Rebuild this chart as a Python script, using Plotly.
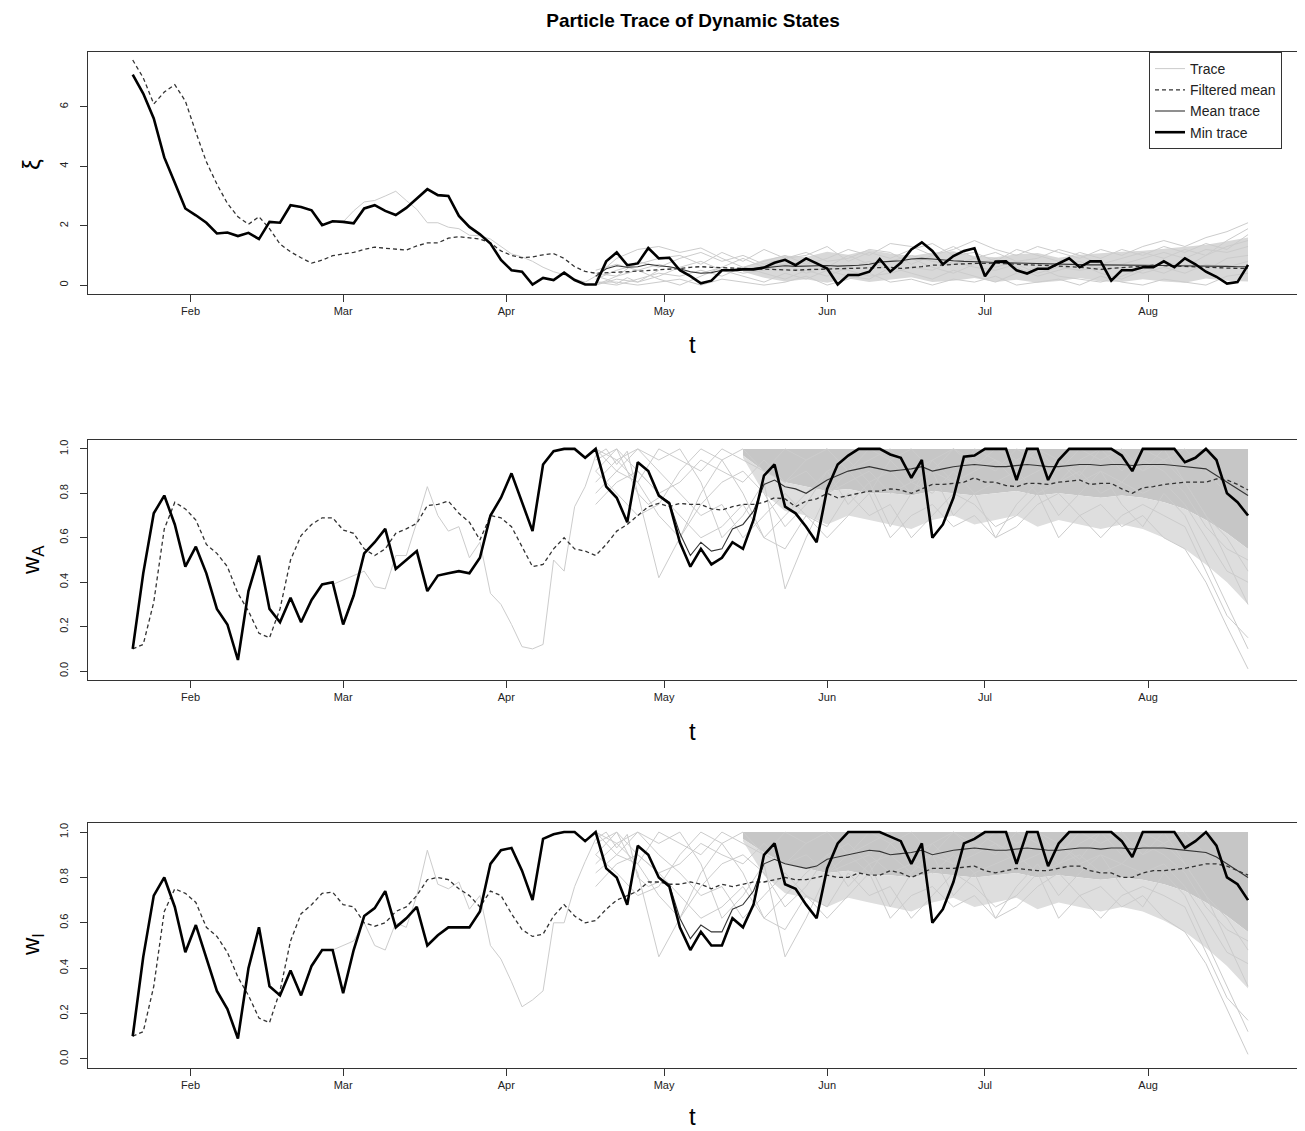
import pandas as pd
import plotly.graph_objects as go

# ---------------- data ----------------
START = "2020-01-21"          # first day of the traces
MAIN_STEP = 2                 # days between samples for main series
GRAY_STEP = 4
GRAY_START_DAY = 88
MEAN1_START_DAY = 88
MEAN23_START_DAY = 100
BAND_START_DAY = 116
XI_BRANCH_DAY = 40
W_BRANCH_DAY = 38

month_ticks = ["2020-02-01", "2020-03-01", "2020-04-01", "2020-05-01",
               "2020-06-01", "2020-07-01", "2020-08-01"]
month_labels = ["Feb", "Mar", "Apr", "May", "Jun", "Jul", "Aug"]

# ---- panel 1: xi ----
xi_min = [7.09, 6.45, 5.61, 4.30, 3.45, 2.58, 2.35, 2.10, 1.74, 1.77,
          1.65, 1.76, 1.55, 2.13, 2.10, 2.69, 2.63, 2.52, 2.02, 2.15,
          2.13, 2.08, 2.58, 2.69, 2.50, 2.36, 2.60, 2.92, 3.23, 3.03,
          3.00, 2.33, 1.96, 1.71, 1.40, 0.85, 0.50, 0.45, 0.02, 0.24,
          0.17, 0.42, 0.17, 0.02, 0.02, 0.80, 1.10, 0.67, 0.73, 1.25,
          0.90, 0.92, 0.50, 0.30, 0.06, 0.15, 0.50, 0.50, 0.53, 0.53,
          0.59, 0.75, 0.85, 0.67, 0.90, 0.73, 0.56, 0.02, 0.34, 0.34,
          0.45, 0.88, 0.45, 0.75, 1.20, 1.44, 1.15, 0.70, 0.98, 1.15,
          1.24, 0.30, 0.79, 0.80, 0.50, 0.39, 0.55, 0.55, 0.72, 0.90,
          0.60, 0.80, 0.80, 0.15, 0.50, 0.50, 0.60, 0.60, 0.80, 0.60,
          0.90, 0.70, 0.45, 0.28, 0.05, 0.10, 0.68]
xi_filtered = [7.58, 6.98, 6.10, 6.50, 6.75, 6.20, 5.15, 4.15, 3.40, 2.75,
               2.30, 2.05, 2.30, 1.90, 1.38, 1.12, 0.92, 0.74, 0.84, 0.99,
               1.05, 1.10, 1.20, 1.28, 1.24, 1.20, 1.18, 1.32, 1.42, 1.42,
               1.58, 1.63, 1.60, 1.55, 1.42, 1.15, 1.00, 0.92, 0.95, 1.02,
               1.06, 0.90, 0.62, 0.46, 0.40, 0.41, 0.43, 0.45, 0.47, 0.49,
               0.50, 0.53, 0.56, 0.60, 0.62, 0.60, 0.58, 0.57, 0.56, 0.55,
               0.54, 0.53, 0.52, 0.50, 0.52, 0.53, 0.55, 0.56, 0.57, 0.58,
               0.59, 0.58, 0.60, 0.56, 0.58, 0.62, 0.67, 0.67, 0.70, 0.72,
               0.73, 0.73, 0.74, 0.72, 0.70, 0.67, 0.67, 0.66, 0.63, 0.62,
               0.60, 0.56, 0.53, 0.56, 0.58, 0.60, 0.64, 0.67, 0.66, 0.64,
               0.62, 0.61, 0.60, 0.59, 0.57, 0.56, 0.56]
xi_mean = [0.30, 0.55, 0.65, 0.60, 0.62, 0.70, 0.65, 0.62, 0.55, 0.45,
           0.40, 0.42, 0.50, 0.52, 0.53, 0.55, 0.58, 0.62, 0.65, 0.63,
           0.64, 0.65, 0.66, 0.64, 0.65, 0.67, 0.70, 0.78, 0.80, 0.82,
           0.88, 0.90, 0.88, 0.84, 0.82, 0.80, 0.80, 0.78, 0.76, 0.75,
           0.73, 0.72, 0.72, 0.71, 0.70, 0.70, 0.69, 0.68, 0.68, 0.68,
           0.67, 0.67, 0.66, 0.66, 0.66, 0.65, 0.65, 0.64, 0.64, 0.63,
           0.63, 0.62, 0.62]
xi_branch = [2.13, 2.50, 2.80, 2.85, 3.00, 3.16, 2.85, 2.55, 2.10, 2.10,
             1.95, 1.90, 1.68, 1.66, 1.55, 1.30, 1.05, 0.95, 0.80, 0.60,
             0.45, 0.35, 0.20, 0.10, 0.30, 0.20, 0.05, 0.25, 0.10, 0.30, 0.50]
xi_band_high = [0.60, 0.85, 1.00, 0.95, 1.12, 1.02, 1.18, 1.06, 0.98, 1.10, 1.14, 0.98, 0.94,
                1.04, 1.08, 0.92, 1.02, 1.08, 1.12, 1.16, 1.22, 1.28, 1.36, 1.48, 1.60]
xi_band_low = [0.45, 0.25, 0.12, 0.20, 0.08, 0.22, 0.10, 0.18, 0.26, 0.10, 0.15, 0.24, 0.10,
               0.18, 0.08, 0.14, 0.24, 0.12, 0.10, 0.20, 0.12, 0.08, 0.22, 0.15, 0.12]
xi_trace_1 = [0.3, 0.9, 1.2, 1.3, 1.1, 1.25, 0.9, 0.6, 0.8, 1.0, 0.7, 0.9, 1.2, 1.0, 1.4, 1.3,
              1.0, 1.2, 1.5, 1.2, 1.0, 1.3, 1.1, 0.9, 1.2, 1.0, 1.3, 1.5, 1.3, 1.6, 1.8, 2.1]
xi_trace_2 = [0.1, 0.0, 0.2, 0.4, 0.3, 0.5, 0.3, 0.6, 0.4, 0.2, 0.5, 0.3, 0.6, 0.8, 0.5, 0.9,
              0.6, 0.4, 0.7, 0.9, 0.6, 0.3, 0.5, 0.7, 0.4, 0.2, 0.5, 0.8, 0.6, 1.0, 1.3, 1.5]
xi_trace_3 = [0.2, 0.5, 0.7, 0.9, 1.0, 0.7, 1.1, 0.8, 1.2, 0.9, 1.0, 1.3, 0.8, 1.1, 0.9, 1.2,
              1.4, 1.0, 1.1, 0.8, 1.2, 1.0, 0.8, 1.1, 0.9, 1.2, 1.0, 1.3, 1.1, 1.4, 1.2, 1.7]
xi_trace_4 = [0.0, 0.2, 0.1, 0.3, 0.6, 0.8, 0.5, 0.3, 0.1, 0.4, 0.2, 0.5, 0.3, 0.2, 0.6, 0.4,
              0.2, 0.5, 0.3, 0.1, 0.4, 0.6, 0.3, 0.2, 0.1, 0.3, 0.6, 0.4, 0.7, 0.5, 0.9, 1.0]
xi_trace_5 = [0.4, 0.3, 0.8, 0.6, 0.9, 1.1, 0.8, 1.0, 0.7, 0.9, 1.1, 0.8, 0.9, 1.2, 1.1, 0.7,
              1.0, 1.3, 0.9, 1.1, 0.8, 0.9, 1.2, 1.0, 0.7, 0.9, 1.1, 0.9, 1.2, 1.0, 1.5, 1.9]
xi_trace_6 = [0.1, 0.1, 0.0, 0.1, 0.2, 0.0, 0.2, 0.1, 0.0, 0.1, 0.3, 0.0, 0.2, 0.4, 0.1, 0.2,
              0.0, 0.2, 0.1, 0.3, 0.0, 0.1, 0.2, 0.0, 0.3, 0.1, 0.0, 0.2, 0.1, 0.0, 0.3, 0.4]
xi_trace_7 = [0.5, 0.7, 0.5, 0.7, 0.5, 0.4, 0.6, 0.9, 0.6, 0.7, 0.8, 0.6, 1.0, 0.7, 0.8, 1.0,
              0.8, 0.7, 0.9, 0.6, 0.8, 0.7, 0.6, 0.5, 0.6, 0.7, 0.9, 1.1, 0.9, 1.2, 1.1, 1.3]
xi_trace_8 = [0.0, 0.3, 0.5, 0.2, 0.0, 0.3, 0.6, 0.4, 0.5, 0.7, 0.4, 0.6, 0.5, 0.3, 0.4, 0.6,
              0.5, 0.8, 0.6, 0.5, 0.7, 0.4, 0.6, 0.8, 0.5, 0.6, 0.4, 0.6, 0.4, 0.7, 0.6, 0.8]

# ---- panel 2: w_A ----
wa_min = [0.10, 0.44, 0.71, 0.79, 0.66, 0.47, 0.56, 0.44, 0.28, 0.21,
          0.05, 0.36, 0.52, 0.28, 0.22, 0.33, 0.22, 0.32, 0.39, 0.40,
          0.21, 0.34, 0.53, 0.58, 0.64, 0.46, 0.50, 0.54, 0.36, 0.43,
          0.44, 0.45, 0.44, 0.51, 0.70, 0.78, 0.89, 0.76, 0.63, 0.93,
          0.99, 1.00, 1.00, 0.96, 1.00, 0.83, 0.78, 0.67, 0.94, 0.90,
          0.79, 0.755, 0.58, 0.47, 0.55, 0.48, 0.51, 0.58, 0.55, 0.68,
          0.88, 0.93, 0.74, 0.71, 0.65, 0.58, 0.82, 0.93, 0.97, 1.00,
          1.00, 1.00, 0.975, 0.96, 0.87, 0.95, 0.60, 0.66, 0.78, 0.965,
          0.97, 1.00, 1.00, 1.00, 0.86, 1.00, 1.00, 0.86, 0.95, 1.00,
          1.00, 1.00, 1.00, 1.00, 0.97, 0.90, 1.00, 1.00, 1.00, 1.00,
          0.94, 0.96, 1.00, 0.95, 0.80, 0.76, 0.70]
wa_filtered = [0.10, 0.12, 0.31, 0.64, 0.76, 0.73, 0.68, 0.57, 0.53, 0.47,
               0.35, 0.27, 0.17, 0.15, 0.28, 0.50, 0.61, 0.66, 0.69, 0.69,
               0.635, 0.62, 0.55, 0.52, 0.55, 0.62, 0.64, 0.665, 0.745, 0.75,
               0.765, 0.71, 0.67, 0.59, 0.70, 0.69, 0.65, 0.56, 0.47, 0.48,
               0.55, 0.60, 0.55, 0.54, 0.52, 0.57, 0.63, 0.66, 0.70, 0.74,
               0.755, 0.74, 0.755, 0.75, 0.75, 0.73, 0.725, 0.74, 0.75, 0.75,
               0.76, 0.78, 0.775, 0.74, 0.765, 0.775, 0.80, 0.78, 0.79, 0.80,
               0.81, 0.81, 0.82, 0.815, 0.80, 0.82, 0.84, 0.84, 0.845, 0.85,
               0.87, 0.85, 0.85, 0.835, 0.83, 0.845, 0.845, 0.84, 0.85, 0.855,
               0.86, 0.84, 0.845, 0.845, 0.82, 0.80, 0.825, 0.83, 0.84, 0.845,
               0.85, 0.85, 0.85, 0.865, 0.86, 0.84, 0.815]
wa_mean = [0.79, 0.76, 0.62, 0.52, 0.58, 0.54, 0.55, 0.64, 0.66, 0.72,
           0.84, 0.86, 0.83, 0.82, 0.80, 0.83, 0.86, 0.88, 0.90, 0.91,
           0.92, 0.91, 0.90, 0.905, 0.91, 0.92, 0.90, 0.91, 0.92, 0.925,
           0.93, 0.925, 0.92, 0.92, 0.925, 0.93, 0.925, 0.92, 0.92, 0.925,
           0.93, 0.93, 0.925, 0.93, 0.93, 0.925, 0.93, 0.93, 0.93, 0.925,
           0.92, 0.915, 0.91, 0.88, 0.85, 0.82, 0.79]
wa_branch = [0.39, 0.41, 0.43, 0.45, 0.38, 0.37, 0.52, 0.52, 0.67, 0.83,
             0.70, 0.63, 0.65, 0.51, 0.58, 0.35, 0.30, 0.21, 0.11, 0.10,
             0.12, 0.50, 0.45, 0.74, 0.83, 0.97, 1.00, 0.93, 0.99, 0.80, 0.75, 0.78]
wa_band_high = [1.00, 1.00, 1.00, 1.00, 1.00, 1.00, 1.00, 1.00, 1.00, 1.00, 1.00, 1.00, 1.00,
                1.00, 1.00, 1.00, 1.00, 1.00, 1.00, 1.00, 1.00, 1.00, 1.00, 1.00, 1.00]
wa_band_low = [0.97, 0.90, 0.85, 0.83, 0.81, 0.82, 0.80, 0.80, 0.79, 0.81, 0.80, 0.79, 0.80,
               0.81, 0.79, 0.80, 0.79, 0.78, 0.79, 0.78, 0.76, 0.73, 0.68, 0.62, 0.55]
wa_band_outer = [0.96, 0.80, 0.72, 0.70, 0.66, 0.70, 0.68, 0.66, 0.64, 0.68, 0.70, 0.66, 0.68,
                 0.70, 0.65, 0.68, 0.66, 0.64, 0.66, 0.64, 0.60, 0.55, 0.48, 0.40, 0.30]
wa_trace_1 = [0.95, 1.0, 0.8, 0.42, 0.6, 0.8, 0.95, 1.0, 0.9, 0.85, 0.95, 1.0, 0.9, 0.8, 0.95, 1.0,
              0.9, 0.85, 1.0, 0.95, 0.9, 1.0, 0.95, 0.88, 1.0, 0.97, 0.9, 1.0, 0.85, 0.7, 0.6, 0.45]
wa_trace_2 = [0.9, 0.8, 0.7, 0.75, 0.9, 1.0, 0.95, 0.8, 0.6, 0.7, 0.8, 0.9, 0.75, 0.85, 0.65, 0.8,
              0.9, 0.7, 0.8, 0.6, 0.75, 0.85, 0.7, 0.8, 0.9, 0.75, 0.65, 0.8, 0.7, 0.5, 0.3, 0.1]
wa_trace_3 = [1.0, 0.9, 1.0, 0.95, 1.0, 0.85, 0.6, 0.7, 0.85, 0.37, 0.6, 0.8, 0.9, 1.0, 0.95, 0.85,
              0.9, 1.0, 0.95, 0.9, 1.0, 0.95, 0.85, 0.95, 1.0, 0.9, 1.0, 0.95, 0.85, 0.7, 0.5, 0.3]
wa_trace_4 = [0.85, 0.95, 1.0, 0.9, 0.8, 0.7, 0.75, 0.6, 0.7, 0.8, 0.7, 0.65, 0.8, 0.7, 0.75, 0.6,
              0.7, 0.8, 0.75, 0.65, 0.7, 0.8, 0.6, 0.7, 0.75, 0.65, 0.7, 0.6, 0.55, 0.4, 0.2, 0.01]
wa_trace_5 = [0.8, 0.9, 0.85, 1.0, 0.95, 0.9, 1.0, 0.95, 0.9, 1.0, 0.95, 1.0, 0.9, 0.95, 1.0, 0.9,
              0.95, 1.0, 0.92, 1.0, 0.95, 1.0, 0.9, 1.0, 0.95, 1.0, 0.9, 0.95, 1.0, 0.9, 0.8, 0.7]
wa_trace_6 = [0.75, 0.85, 0.9, 0.8, 0.7, 0.6, 0.65, 0.75, 0.6, 0.55, 0.7, 0.6, 0.7, 0.8, 0.6, 0.7,
              0.75, 0.65, 0.7, 0.6, 0.65, 0.75, 0.8, 0.7, 0.6, 0.7, 0.75, 0.7, 0.65, 0.45, 0.25, 0.15]
wa_trace_7 = [0.9, 1.0, 0.9, 0.8, 0.85, 0.95, 0.9, 0.85, 0.95, 0.85, 0.9, 0.8, 0.85, 0.9, 0.8, 0.85,
              0.8, 0.9, 0.8, 0.85, 0.9, 0.8, 0.85, 0.9, 0.8, 0.85, 0.8, 0.85, 0.75, 0.6, 0.45, 0.4]
wa_trace_8 = [1.0, 0.95, 0.85, 0.7, 0.6, 0.75, 0.85, 0.9, 0.8, 0.65, 0.75, 0.9, 0.95, 0.85, 0.9, 0.8,
              0.95, 0.85, 0.9, 0.95, 0.85, 0.9, 0.95, 0.85, 0.9, 0.85, 0.95, 0.9, 0.8, 0.65, 0.55, 0.5]

# ---- panel 3: w_I ----
wi_min = [0.10, 0.45, 0.72, 0.80, 0.67, 0.47, 0.59, 0.45, 0.30, 0.22,
          0.09, 0.40, 0.58, 0.32, 0.28, 0.39, 0.28, 0.41, 0.48, 0.48,
          0.29, 0.48, 0.63, 0.665, 0.74, 0.58, 0.62, 0.67, 0.50, 0.545,
          0.58, 0.58, 0.58, 0.65, 0.86, 0.92, 0.93, 0.83, 0.70, 0.97,
          0.99, 1.00, 1.00, 0.96, 1.00, 0.84, 0.80, 0.68, 0.94, 0.90,
          0.80, 0.76, 0.58, 0.48, 0.56, 0.50, 0.50, 0.62, 0.58, 0.68,
          0.90, 0.95, 0.77, 0.75, 0.68, 0.62, 0.84, 0.95, 1.00, 1.00,
          1.00, 1.00, 0.98, 0.96, 0.86, 0.95, 0.60, 0.66, 0.78, 0.95,
          0.97, 1.00, 1.00, 1.00, 0.86, 1.00, 1.00, 0.85, 0.95, 1.00,
          1.00, 1.00, 1.00, 1.00, 0.96, 0.89, 1.00, 1.00, 1.00, 1.00,
          0.93, 0.96, 1.00, 0.94, 0.80, 0.77, 0.70]
wi_filtered = [0.10, 0.12, 0.32, 0.65, 0.75, 0.73, 0.69, 0.58, 0.54, 0.47,
               0.36, 0.28, 0.18, 0.16, 0.30, 0.52, 0.64, 0.68, 0.73, 0.735,
               0.68, 0.67, 0.60, 0.585, 0.60, 0.65, 0.67, 0.72, 0.79, 0.80,
               0.79, 0.75, 0.72, 0.67, 0.74, 0.72, 0.64, 0.57, 0.54, 0.55,
               0.63, 0.68, 0.63, 0.60, 0.61, 0.66, 0.70, 0.72, 0.74, 0.78,
               0.78, 0.77, 0.77, 0.78, 0.77, 0.75, 0.77, 0.76, 0.77, 0.78,
               0.78, 0.79, 0.80, 0.79, 0.79, 0.80, 0.81, 0.80, 0.80, 0.82,
               0.81, 0.81, 0.83, 0.82, 0.80, 0.82, 0.84, 0.84, 0.84, 0.845,
               0.85, 0.83, 0.82, 0.83, 0.84, 0.835, 0.83, 0.83, 0.84, 0.85,
               0.85, 0.83, 0.82, 0.82, 0.80, 0.80, 0.82, 0.83, 0.83, 0.835,
               0.84, 0.85, 0.86, 0.86, 0.85, 0.83, 0.81]
wi_mean = [0.80, 0.77, 0.62, 0.53, 0.59, 0.56, 0.56, 0.66, 0.68, 0.74,
           0.86, 0.88, 0.86, 0.85, 0.84, 0.85, 0.88, 0.89, 0.90, 0.91,
           0.92, 0.915, 0.90, 0.905, 0.91, 0.92, 0.90, 0.91, 0.92, 0.925,
           0.93, 0.925, 0.92, 0.92, 0.925, 0.93, 0.925, 0.92, 0.92, 0.925,
           0.93, 0.93, 0.925, 0.93, 0.93, 0.925, 0.93, 0.93, 0.93, 0.925,
           0.92, 0.915, 0.91, 0.89, 0.86, 0.83, 0.80]
wi_branch = [0.48, 0.50, 0.52, 0.60, 0.50, 0.48, 0.60, 0.58, 0.72, 0.92,
             0.77, 0.75, 0.78, 0.66, 0.72, 0.50, 0.44, 0.34, 0.23, 0.26,
             0.30, 0.60, 0.60, 0.76, 0.87, 0.97, 1.00, 0.93, 0.99, 0.80, 0.76, 0.78]
wi_band_high = [1.00, 1.00, 1.00, 1.00, 1.00, 1.00, 1.00, 1.00, 1.00, 1.00, 1.00, 1.00, 1.00,
                1.00, 1.00, 1.00, 1.00, 1.00, 1.00, 1.00, 1.00, 1.00, 1.00, 1.00, 1.00]
wi_band_low = [0.97, 0.91, 0.86, 0.84, 0.82, 0.83, 0.81, 0.81, 0.80, 0.82, 0.81, 0.80, 0.81,
               0.82, 0.80, 0.81, 0.80, 0.79, 0.80, 0.79, 0.77, 0.74, 0.69, 0.63, 0.56]
wi_band_outer = [0.96, 0.81, 0.73, 0.71, 0.67, 0.71, 0.69, 0.67, 0.65, 0.69, 0.71, 0.67, 0.69,
                 0.71, 0.66, 0.69, 0.67, 0.65, 0.67, 0.65, 0.61, 0.56, 0.49, 0.41, 0.31]
wi_trace_1 = [0.95, 1.0, 0.82, 0.45, 0.62, 0.82, 0.95, 1.0, 0.9, 0.86, 0.95, 1.0, 0.9, 0.82, 0.95, 1.0,
              0.9, 0.86, 1.0, 0.95, 0.9, 1.0, 0.95, 0.88, 1.0, 0.97, 0.9, 1.0, 0.86, 0.72, 0.62, 0.48]
wi_trace_2 = [0.9, 0.82, 0.72, 0.76, 0.9, 1.0, 0.95, 0.82, 0.62, 0.72, 0.82, 0.9, 0.76, 0.86, 0.67, 0.82,
              0.9, 0.72, 0.82, 0.62, 0.76, 0.86, 0.72, 0.82, 0.9, 0.76, 0.67, 0.82, 0.72, 0.52, 0.32, 0.12]
wi_trace_3 = [1.0, 0.9, 1.0, 0.95, 1.0, 0.86, 0.62, 0.72, 0.86, 0.45, 0.62, 0.82, 0.9, 1.0, 0.95, 0.86,
              0.9, 1.0, 0.95, 0.9, 1.0, 0.95, 0.86, 0.95, 1.0, 0.9, 1.0, 0.95, 0.86, 0.72, 0.52, 0.32]
wi_trace_4 = [0.86, 0.95, 1.0, 0.9, 0.82, 0.72, 0.76, 0.62, 0.72, 0.82, 0.72, 0.67, 0.82, 0.72, 0.76, 0.62,
              0.72, 0.82, 0.76, 0.67, 0.72, 0.82, 0.62, 0.72, 0.76, 0.67, 0.72, 0.62, 0.56, 0.42, 0.22, 0.02]
wi_trace_5 = [0.82, 0.9, 0.86, 1.0, 0.95, 0.9, 1.0, 0.95, 0.9, 1.0, 0.95, 1.0, 0.9, 0.95, 1.0, 0.9,
              0.95, 1.0, 0.92, 1.0, 0.95, 1.0, 0.9, 1.0, 0.95, 1.0, 0.9, 0.95, 1.0, 0.9, 0.82, 0.72]
wi_trace_6 = [0.76, 0.86, 0.9, 0.82, 0.72, 0.62, 0.67, 0.76, 0.62, 0.57, 0.72, 0.62, 0.72, 0.82, 0.62, 0.72,
              0.76, 0.67, 0.72, 0.62, 0.67, 0.76, 0.82, 0.72, 0.62, 0.72, 0.76, 0.72, 0.67, 0.47, 0.27, 0.17]
wi_trace_7 = [0.9, 1.0, 0.9, 0.82, 0.86, 0.95, 0.9, 0.86, 0.95, 0.86, 0.9, 0.82, 0.86, 0.9, 0.82, 0.86,
              0.82, 0.9, 0.82, 0.86, 0.9, 0.82, 0.86, 0.9, 0.82, 0.86, 0.82, 0.86, 0.76, 0.62, 0.47, 0.42]
wi_trace_8 = [1.0, 0.95, 0.86, 0.72, 0.62, 0.76, 0.86, 0.9, 0.82, 0.67, 0.76, 0.9, 0.95, 0.86, 0.9, 0.82,
              0.95, 0.86, 0.9, 0.95, 0.86, 0.9, 0.95, 0.86, 0.9, 0.86, 0.95, 0.9, 0.82, 0.67, 0.57, 0.52]


# ---------------- helpers ----------------
def dates(start_day, n, step):
    return pd.date_range(pd.Timestamp(START) + pd.Timedelta(days=start_day),
                         periods=n, freq=f"{step}D")


GRAY = "rgb(204,204,204)"
DARK = "#333333"
FONT = "Liberation Sans, Arial, Helvetica, sans-serif"

fig = go.Figure()

panels = [
    dict(idx=1, mn=xi_min, filt=xi_filtered, mean=xi_mean, mean_day=MEAN1_START_DAY,
         branch=xi_branch, branch_day=XI_BRANCH_DAY,
         traces=[xi_trace_1, xi_trace_2, xi_trace_3, xi_trace_4,
                 xi_trace_5, xi_trace_6, xi_trace_7, xi_trace_8],
         bands=[(xi_band_high, None), (xi_band_low, "rgb(216,216,216)")]),
    dict(idx=2, mn=wa_min, filt=wa_filtered, mean=wa_mean, mean_day=MEAN23_START_DAY,
         branch=wa_branch, branch_day=W_BRANCH_DAY,
         traces=[wa_trace_1, wa_trace_2, wa_trace_3, wa_trace_4,
                 wa_trace_5, wa_trace_6, wa_trace_7, wa_trace_8],
         bands=[(wa_band_high, None), (wa_band_low, "rgb(198,198,198)"),
                (wa_band_outer, "rgb(222,222,222)")]),
    dict(idx=3, mn=wi_min, filt=wi_filtered, mean=wi_mean, mean_day=MEAN23_START_DAY,
         branch=wi_branch, branch_day=W_BRANCH_DAY,
         traces=[wi_trace_1, wi_trace_2, wi_trace_3, wi_trace_4,
                 wi_trace_5, wi_trace_6, wi_trace_7, wi_trace_8],
         bands=[(wi_band_high, None), (wi_band_low, "rgb(198,198,198)"),
                (wi_band_outer, "rgb(222,222,222)")]),
]

for p in panels:
    ax = "" if p["idx"] == 1 else str(p["idx"])
    xa, ya = "x" + ax, "y" + ax
    first = p["idx"] == 1
    # density bands of the particle cloud
    for vals, col in p["bands"]:
        xb = dates(BAND_START_DAY, len(vals), GRAY_STEP)
        if col is None:
            fig.add_trace(go.Scatter(x=xb, y=vals, mode="lines", line=dict(width=0),
                                     showlegend=False, hoverinfo="skip", xaxis=xa, yaxis=ya))
        else:
            fig.add_trace(go.Scatter(x=xb, y=vals, mode="lines", line=dict(width=0, color=col),
                                     fill="tonexty", fillcolor=col,
                                     showlegend=False, hoverinfo="skip", xaxis=xa, yaxis=ya))
    # particle traces
    fig.add_trace(go.Scatter(x=dates(p["branch_day"], len(p["branch"]), MAIN_STEP), y=p["branch"],
                             mode="lines", line=dict(color=GRAY, width=1),
                             name="Trace", showlegend=first, legendrank=1,
                             xaxis=xa, yaxis=ya))
    for tr in p["traces"]:
        fig.add_trace(go.Scatter(x=dates(GRAY_START_DAY, len(tr), GRAY_STEP), y=tr,
                                 mode="lines", line=dict(color=GRAY, width=1),
                                 showlegend=False, xaxis=xa, yaxis=ya))
    # filtered mean
    fig.add_trace(go.Scatter(x=dates(0, len(p["filt"]), MAIN_STEP), y=p["filt"],
                             mode="lines", line=dict(color=DARK, width=1.3, dash="4px,3px"),
                             name="Filtered mean", showlegend=first, legendrank=2,
                             xaxis=xa, yaxis=ya))
    # mean trace
    fig.add_trace(go.Scatter(x=dates(p["mean_day"], len(p["mean"]), MAIN_STEP), y=p["mean"],
                             mode="lines", line=dict(color=DARK, width=1.1),
                             name="Mean trace", showlegend=first, legendrank=3,
                             xaxis=xa, yaxis=ya))
    # min trace
    fig.add_trace(go.Scatter(x=dates(0, len(p["mn"]), MAIN_STEP), y=p["mn"],
                             mode="lines", line=dict(color="black", width=2.6),
                             name="Min trace", showlegend=first, legendrank=4,
                             xaxis=xa, yaxis=ya))

# ---------------- layout ----------------
OFF = 8                      # the page body margin in the browser
W, H = 1305 - OFF, 1131 - OFF


def px(x):
    return (x - OFF) / W


def py(y):
    return 1 - (y - OFF) / H


x_dom = [px(88), px(1298)]
y_doms = [[py(294), py(52)], [py(680), py(440)], [py(1068), py(823)]]
y_ranges = [[-0.3, 7.85], [-0.04, 1.04], [-0.04, 1.04]]
y_ticks = [[0, 2, 4, 6], [0, 0.2, 0.4, 0.6, 0.8, 1.0], [0, 0.2, 0.4, 0.6, 0.8, 1.0]]
y_ticktext = [["0", "2", "4", "6"], ["0.0", "0.2", "0.4", "0.6", "0.8", "1.0"],
              ["0.0", "0.2", "0.4", "0.6", "0.8", "1.0"]]

layout = dict(
    width=W, height=H,
    margin=dict(l=0, r=0, t=0, b=0),
    paper_bgcolor="white", plot_bgcolor="white",
    font=dict(family=FONT, color="#222222"),
    showlegend=True,
    title=dict(text="<b>Particle Trace of Dynamic States</b>", x=px(693), xanchor="center",
               y=py(20), yanchor="middle", font=dict(size=19, color="black", family=FONT)),
    legend=dict(x=px(1149), xanchor="left", y=py(52), yanchor="top",
                bgcolor="white", bordercolor="#333333", borderwidth=1,
                font=dict(size=14, color="#222222", family=FONT),
                traceorder="normal", tracegroupgap=0, itemwidth=30),
)

for i in range(3):
    sfx = "" if i == 0 else str(i + 1)
    layout["xaxis" + sfx] = dict(
        domain=x_dom, anchor="y" + sfx, type="date",
        range=["2020-01-12 12:00", "2020-08-29 12:00"],
        tickmode="array", tickvals=month_ticks, ticktext=month_labels,
        ticks="outside", ticklen=7, tickcolor="#333333", tickwidth=1,
        showline=True, mirror=True, linecolor="#333333", linewidth=1.3,
        showgrid=False, zeroline=False, automargin=False,
        tickfont=dict(size=11, color="#222222", family=FONT),
    )
    layout["yaxis" + sfx] = dict(
        domain=y_doms[i], anchor="x" + sfx, range=y_ranges[i],
        tickmode="array", tickvals=y_ticks[i], ticktext=y_ticktext[i],
        ticks="outside", ticklen=7, tickcolor="#333333", tickwidth=1,
        showline=True, mirror=True, linecolor="#333333", linewidth=1.3,
        showgrid=False, zeroline=False, automargin=False, tickangle=-90,
        ticklabelstandoff=7,
        tickfont=dict(size=11, color="#222222", family=FONT),
    )

fig.update_layout(**layout)

# axis titles
t_y = [345, 731, 1116]
for ty in t_y:
    fig.add_annotation(text="t", x=px(693), y=py(ty), xref="paper", yref="paper",
                       showarrow=False, font=dict(size=24, color="black", family=FONT),
                       xanchor="center", yanchor="middle")
y_titles = [("ξ", 165), ("w<sub>A</sub>", 560), ("w<sub>I</sub>", 945)]
for txt, yy in y_titles:
    fig.add_annotation(text=txt, x=px(32), y=py(yy), xref="paper", yref="paper",
                       showarrow=False, textangle=-90,
                       font=dict(size=24, color="black", family=FONT),
                       xanchor="center", yanchor="middle")

fig.write_html("out.html")
